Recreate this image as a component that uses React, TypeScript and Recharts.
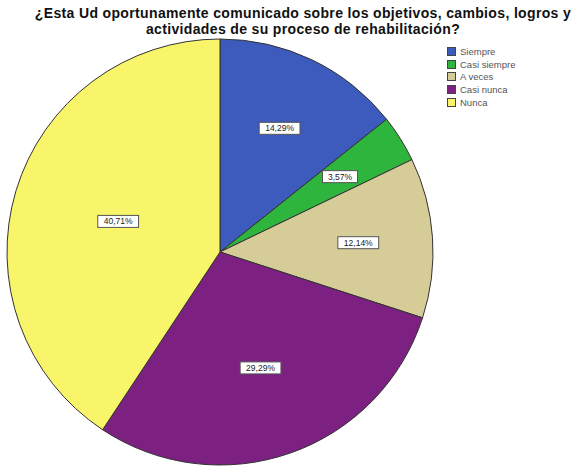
import { PieChart, Pie, Cell, Legend } from 'recharts';

const categories = ['Siempre', 'Casi siempre', 'A veces', 'Casi nunca', 'Nunca'];
const percents = [14.29, 3.57, 12.14, 29.29, 40.71];
const colors = ['#3c5bbd', '#2db53d', '#d6cc98', '#7c2082', '#f8f56a'];
const titleLines = [
  '¿Esta Ud oportunamente comunicado sobre los objetivos, cambios, logros y',
  'actividades de su proceso de rehabilitación?',
];

const data = categories.map((name, i) => ({ name, value: percents[i] }));

const RAD = Math.PI / 180;

// SPSS puts the label at the slice centroid
function renderLabel(props: any) {
  const { cx, cy, midAngle, outerRadius, value, percent } = props;
  const half = percent * Math.PI;
  const k = (2 * Math.sin(half)) / (3 * half);
  const r = outerRadius * k;
  const x = cx + r * Math.cos(-midAngle * RAD);
  const y = cy + r * Math.sin(-midAngle * RAD);
  const text = value.toFixed(2).replace('.', ',') + '%';
  const w = text.length * 5.8 + 6;
  return (
    <g>
      <rect x={x - w / 2} y={y - 6} width={w} height={12} fill="#fff" stroke="#555" strokeWidth={1} />
      <text x={x} y={y + 3} textAnchor="middle" fontSize={8.5} fill="#222" fontFamily="Liberation Sans, Arial">
        {text}
      </text>
    </g>
  );
}

function LegendBox() {
  return (
    <div style={{ fontFamily: 'Liberation Sans, Arial', fontSize: 9.5, color: '#555' }}>
      {categories.map((c, i) => (
        <div key={c} style={{ display: 'flex', alignItems: 'center', height: 12.8 }}>
          <span
            style={{
              width: 9,
              height: 9,
              background: colors[i],
              border: '1px solid #444',
              marginRight: 4,
              boxSizing: 'border-box',
            }}
          />
          {c}
        </div>
      ))}
    </div>
  );
}

export default function App() {
  return (
    <div style={{ position: 'absolute', left: 0, top: 0, width: 579, height: 473, background: '#fff' }}>
      <div
        style={{
          position: 'absolute',
          left: 0,
          top: 5,
          width: 606,
          textAlign: 'center',
          fontFamily: 'Liberation Sans, Arial',
          fontWeight: 'bold',
          fontSize: 14,
          letterSpacing: 0.35,
          lineHeight: '16px',
          color: '#111',
          zIndex: 2,
        }}
      >
        {titleLines.map((l) => (
          <div key={l}>{l}</div>
        ))}
      </div>
      <PieChart width={579} height={473} margin={{ top: 0, right: 0, bottom: 0, left: 0 }}>
        <Pie
          data={data}
          dataKey="value"
          nameKey="name"
          cx={220}
          cy={252}
          outerRadius={213}
          startAngle={90}
          endAngle={-270}
          stroke="#333"
          strokeWidth={1}
          label={renderLabel}
          labelLine={false}
          isAnimationActive={false}
        >
          {data.map((d, i) => (
            <Cell key={d.name} fill={colors[i]} />
          ))}
        </Pie>
        <Legend
          content={() => <LegendBox />}
          wrapperStyle={{ position: 'absolute', left: 447, top: 45, width: 125 }}
        />
      </PieChart>
    </div>
  );
}
